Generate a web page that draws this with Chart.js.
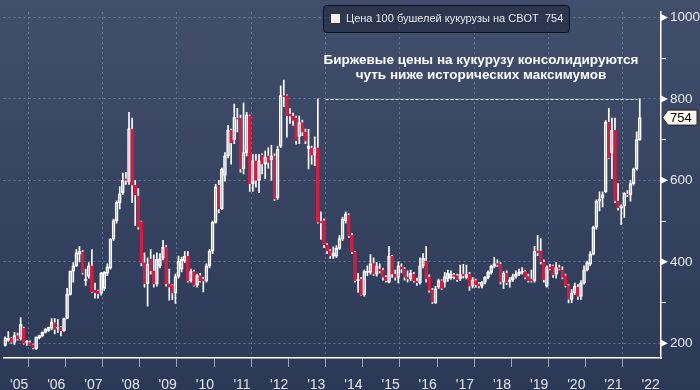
<!DOCTYPE html>
<html>
<head>
<meta charset="utf-8">
<script src="https://cdn.jsdelivr.net/npm/chart.js@4.4.1/dist/chart.umd.min.js"></script>
<style>
  html, body { margin: 0; padding: 0; background: #34425f; }
  #wrap { width: 700px; height: 390px; }
</style>
</head>
<body>
<div id="wrap"><canvas id="chart" width="700" height="390"></canvas></div>
<script>
// monthly candles, first one = Feb 2005
const startYear = 2005, startMonth = 2;

const open = [
  195,207,213,202,219,211,238,202,202,197,186,
  213,218,227,231,237,251,237,240,231,261,320,377,
  390,418,424,354,364,390,330,329,323,335,372,385,
  456,501,545,570,604,596,726,588,561,497,398,346,
  406,378,346,390,410,436,346,342,324,364,382,402,
  414,354,376,342,366,358,353,390,426,497,588,530,
  612,660,723,700,753,753,628,668,759,592,648,600,
  662,640,660,650,660,557,684,808,808,763,758,753,
  708,742,719,678,680,662,680,499,501,442,427,414,
  414,433,457,501,515,466,424,354,358,319,374,374,
  396,370,382,380,362,350,414,370,362,388,382,362,
  358,370,353,348,390,402,362,330,299,338,354,350,
  358,361,368,366,358,370,362,370,340,354,346,340,
  350,362,374,389,396,394,350,372,350,356,364,370,
  374,376,364,358,354,427,426,400,340,388,390,370,
  386,380,366,342,308,324,338,315,348,380,394,419,
  485,549,557,572,743,668,723,549,533,537,567,565,
  592,628,700
];
const high = [
  216,229,215,227,225,263,240,207,206,198,216,
  220,228,236,240,261,261,259,241,262,335,378,398,
  430,438,428,382,398,430,348,331,374,376,395,458,
  505,550,585,618,620,767,753,600,580,500,422,410,
  430,417,422,420,453,440,382,345,370,414,412,426,
  426,382,380,370,372,362,395,430,500,590,600,630,
  668,735,726,787,777,760,790,767,760,664,664,664,
  665,672,680,686,665,684,832,846,810,776,765,758,
  758,748,726,725,684,707,800,523,505,445,430,437,
  440,465,510,523,518,470,425,372,362,380,390,418,
  410,398,395,385,366,438,416,380,400,395,386,378,
  380,374,360,410,420,438,368,335,340,358,356,374,
  380,378,372,370,392,394,392,374,362,358,350,352,
  364,378,392,411,405,398,376,378,362,370,378,382,
  386,380,370,380,438,465,457,405,390,394,392,398,
  392,388,370,345,332,348,345,354,390,402,425,488,
  552,572,572,747,777,753,753,592,540,570,575,600,
  630,719,800
];
const low = [
  193,205,200,197,208,208,198,195,196,186,185,
  211,216,225,229,233,223,227,218,229,260,318,350,
  388,400,370,342,360,325,311,311,318,330,366,382,
  452,495,530,565,590,590,545,489,480,390,338,291,
  370,338,340,385,405,340,306,307,298,360,375,398,
  350,350,340,338,350,326,350,385,420,495,520,528,
  598,655,640,690,719,620,616,660,573,573,583,570,
  616,604,630,600,550,553,680,781,706,740,735,689,
  690,710,690,628,640,636,495,455,435,420,408,408,
  410,430,452,495,460,420,350,325,318,316,366,370,
  366,365,373,355,350,348,362,355,348,373,355,350,
  354,350,342,345,385,350,325,298,298,334,332,338,
  352,357,358,352,354,360,358,330,336,337,336,336,
  346,358,370,385,388,346,334,344,338,352,360,366,
  370,358,350,350,350,415,395,350,338,380,362,360,
  380,358,338,299,300,320,308,308,345,378,390,417,
  480,525,535,570,654,604,545,527,491,509,560,549,
  588,625,698
];
const close = [
  213,213,202,219,210,247,200,205,196,188,215,
  219,227,235,239,252,234,240,231,261,320,377,390,
  422,426,373,358,390,327,324,321,372,374,388,456,
  501,546,567,600,600,727,588,565,485,398,346,394,
  378,346,406,408,436,346,338,324,364,402,406,414,
  354,376,342,366,354,353,390,426,497,584,529,628,
  660,723,692,755,750,628,668,761,592,648,600,648,
  640,658,644,660,554,676,808,805,758,758,747,697,
  742,718,696,684,662,680,497,496,442,426,414,422,
  433,457,505,517,464,424,354,358,319,377,377,396,
  370,390,377,362,353,414,370,362,390,382,362,358,
  372,353,348,390,409,358,330,301,334,354,335,364,
  372,370,364,356,370,366,370,340,356,344,340,350,
  362,374,389,396,393,350,372,348,356,364,370,374,
  377,362,354,354,426,422,400,356,388,383,368,386,
  382,362,340,308,324,340,315,348,380,398,419,485,
  549,554,565,743,656,723,549,533,537,568,565,592,
  628,700,754
];

const yearLabels = ["'05","'06","'07","'08","'09","'10","'11","'12","'13",
                    "'14","'15","'16","'17","'18","'19","'20","'21","'22"];
const priceTicks = [200, 300, 400, 500, 600, 700, 800, 900, 1000];
const lastPrice = 754;
const levelLine = 800;
const legendText = 'Цена 100 бушелей кукурузы на CBOT  754';
const noteLines = ['Биржевые цены на кукурузу консолидируются', 'чуть ниже исторических максимумов'];

const RED = '#d81b3f';
const WHITE = '#ffffff';
const GRID = 'rgba(110,140,170,0.75)';
const FONT = "'Liberation Sans', Arial, sans-serif";

// month centre as fractional year
const t = open.map((_, i) => startYear + (startMonth - 1 + i + 0.5) / 12);

const bodies = t.map((x, i) => ({ x, y: [Math.min(open[i], close[i]), Math.max(open[i], close[i])] }));
const wickUp = t.map((x, i) => ({ x, y: [Math.max(open[i], close[i]), high[i]] }));
const wickDown = t.map((x, i) => ({ x, y: [low[i], Math.min(open[i], close[i])] }));
const isDown = open.map((o, i) => close[i] < o);

const tickVal = c => (c && c.tick) ? c.tick.value : NaN;

const bg = {
  id: 'bg',
  beforeDraw(chart) {
    const { ctx, width, height } = chart;
    const g = ctx.createLinearGradient(0, 0, 0, height);
    g.addColorStop(0, '#414f6d');
    g.addColorStop(1, '#2b3856');
    ctx.save();
    ctx.fillStyle = g;
    ctx.fillRect(0, 0, width, height);
    ctx.restore();
  }
};

const extras = {
  id: 'extras',
  afterDraw(chart) {
    const { ctx, scales: { x, y } } = chart;
    const axisX = y.left;
    ctx.save();

    // triangles on the major price ticks
    ctx.fillStyle = WHITE;
    priceTicks.filter(v => v % 200 === 0).forEach(v => {
      const py = y.getPixelForValue(v);
      ctx.beginPath();
      ctx.moveTo(axisX, py - 3.5);
      ctx.lineTo(axisX + 7, py);
      ctx.lineTo(axisX, py + 3.5);
      ctx.closePath();
      ctx.fill();
    });

    // dashed level line
    const ly = Math.round(y.getPixelForValue(levelLine)) + 0.5;
    ctx.strokeStyle = WHITE;
    ctx.lineWidth = 1;
    ctx.setLineDash([3, 2]);
    ctx.beginPath();
    ctx.moveTo(x.getPixelForValue(2013.75), ly);
    ctx.lineTo(x.getPixelForValue(2022.15), ly);
    ctx.stroke();
    ctx.setLineDash([]);

    // legend box
    const lx = 323, ly0 = 5, lw = 246, lh = 27;
    ctx.fillStyle = 'rgba(38,48,70,0.75)';
    ctx.strokeStyle = '#0d1018';
    ctx.beginPath();
    ctx.roundRect(lx + 0.5, ly0 + 0.5, lw, lh, 3);
    ctx.fill();
    ctx.stroke();
    ctx.fillStyle = '#fbeee9';
    ctx.fillRect(331, 14, 9, 9);
    ctx.fillStyle = '#e8e8ec';
    ctx.font = '11px ' + FONT;
    ctx.textBaseline = 'middle';
    ctx.textAlign = 'left';
    ctx.fillText(legendText, 346, 19);

    // note
    ctx.fillStyle = WHITE;
    ctx.font = 'bold 13.5px ' + FONT;
    ctx.textAlign = 'center';
    ctx.fillText(noteLines[0], 481, 60.5);
    ctx.fillText(noteLines[1], 481, 75);

    // last price tag
    const py = y.getPixelForValue(lastPrice);
    ctx.fillStyle = '#fdf8ee';
    ctx.strokeStyle = '#222';
    ctx.beginPath();
    ctx.moveTo(axisX + 1.5, py);
    ctx.lineTo(axisX + 7, py - 7.5);
    ctx.lineTo(697, py - 7.5);
    ctx.lineTo(697, py + 7.5);
    ctx.lineTo(axisX + 7, py + 7.5);
    ctx.closePath();
    ctx.fill();
    ctx.stroke();
    ctx.fillStyle = '#000';
    ctx.font = '13px ' + FONT;
    ctx.textAlign = 'left';
    ctx.fillText(String(lastPrice), 670, py + 0.5);
    ctx.restore();
  }
};

new Chart(document.getElementById('chart'), {
  type: 'bar',
  data: {
    datasets: [
      {
        data: bodies,
        order: 0,
        grouped: false,
        barThickness: 3,
        borderWidth: 1,
        borderSkipped: false,
        backgroundColor: isDown.map(d => d ? RED : 'transparent'),
        borderColor: isDown.map(d => d ? RED : WHITE)
      },
      { data: wickUp, order: 1, grouped: false, barThickness: 1, backgroundColor: WHITE, borderWidth: 0 },
      { data: wickDown, order: 1, grouped: false, barThickness: 1, backgroundColor: WHITE, borderWidth: 0 }
    ]
  },
  options: {
    responsive: false,
    animation: false,
    devicePixelRatio: 1,
    layout: { padding: 0 },
    plugins: { legend: { display: false }, tooltip: { enabled: false } },
    scales: {
      x: {
        type: 'linear',
        offset: false,
        min: 2005.08,
        max: 2022.78,
        afterBuildTicks(axis) {
          const ticks = [];
          for (let yr = 2005; yr <= 2022; yr++) {
            if (yr > 2005) ticks.push({ value: yr });
            ticks.push({ value: yr + 0.5 });
          }
          axis.ticks = ticks;
        },
        afterFit(axis) { axis.height = 32; },
        ticks: {
          autoSkip: false,
          maxRotation: 0,
          padding: 10,
          color: '#e4e6ec',
          font: { family: FONT, size: 14 },
          callback: v => Number.isInteger(v) ? '' : yearLabels[Math.floor(v) - 2005]
        },
        grid: {
          color: c => {
            const v = tickVal(c);
            return (Number.isInteger(v) && v % 2 === 0) ? GRID : 'rgba(0,0,0,0)';
          },
          tickColor: c => Number.isInteger(tickVal(c)) ? '#9aa2b4' : 'rgba(0,0,0,0)',
          tickLength: 9,
          lineWidth: 1
        },
        border: { display: true, color: WHITE, width: 1.5, dash: [2, 3] }
      },
      y: {
        position: 'right',
        min: 164,
        max: 1013,
        afterBuildTicks(axis) { axis.ticks = priceTicks.map(v => ({ value: v })); },
        afterFit(axis) { axis.width = 39; },
        ticks: {
          padding: 4,
          color: '#e8eaf0',
          font: { family: FONT, size: 13.5 },
          callback: v => v % 200 === 0 ? String(v) : ''
        },
        grid: {
          color: c => tickVal(c) % 200 === 0 ? GRID : 'rgba(0,0,0,0)',
          tickColor: c => {
            const v = tickVal(c);
            return (isNaN(v) || v % 200 === 0) ? 'rgba(0,0,0,0)' : WHITE;
          },
          tickLength: 5,
          lineWidth: 1
        },
        border: { display: true, color: WHITE, width: 1.5, dash: [2, 3] }
      }
    }
  },
  plugins: [bg, extras]
});
</script>
</body>
</html>
